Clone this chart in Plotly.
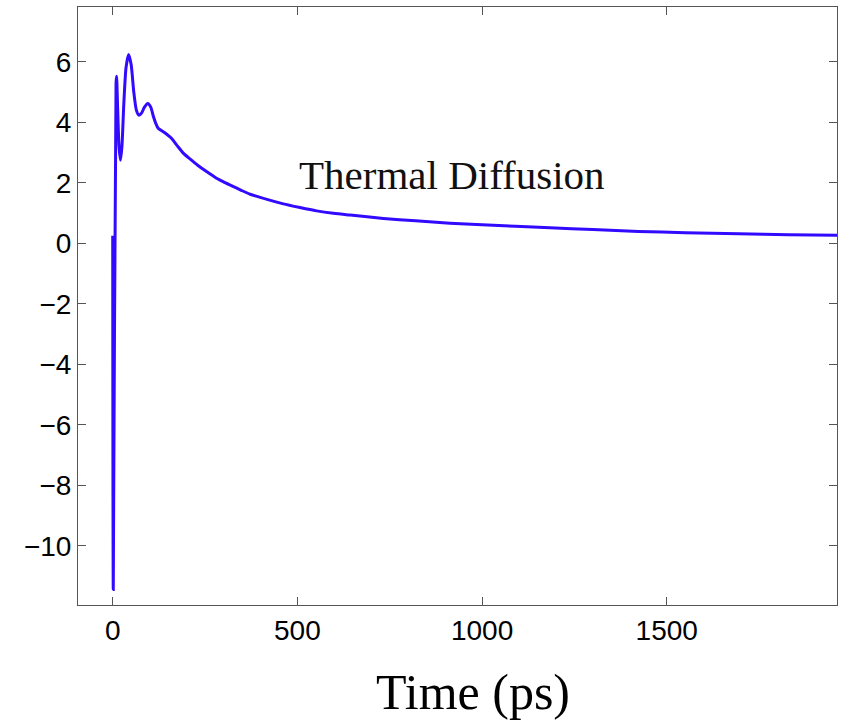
import plotly.graph_objects as go

# Time samples (ps) and the corresponding signal values
time_ps = [0, 1.5, 9, 10.5, 13, 17, 21, 25, 30, 36, 43, 50, 57, 64, 71, 78, 86, 95,
           103, 110, 117, 123, 140, 159, 175, 191, 210, 230, 255, 281, 300, 324,
           348, 372, 420, 462, 507, 552, 597, 643, 733, 820, 913, 1000, 1090,
           1184, 1300, 1424, 1550, 1695, 1830, 1961]
signal = [0.25, -11.45, 5.3, 5.52, 4.6, 3.2, 2.74, 3.2, 4.6, 5.8, 6.24, 5.9, 5.0,
          4.4, 4.23, 4.3, 4.5, 4.62, 4.5, 4.2, 3.95, 3.80, 3.66, 3.47, 3.22, 2.98,
          2.78, 2.58, 2.36, 2.15, 2.03, 1.89, 1.75, 1.62, 1.44, 1.30, 1.18, 1.07,
          0.99, 0.93, 0.82, 0.74, 0.66, 0.61, 0.56, 0.51, 0.45, 0.39, 0.35, 0.31,
          0.28, 0.26]

x_ticks = [0, 500, 1000, 1500]
y_ticks = [-10, -8, -6, -4, -2, 0, 2, 4, 6]

fig = go.Figure()
fig.add_trace(go.Scatter(
    x=time_ps, y=signal, mode="lines",
    line=dict(color="rgb(50,10,255)", width=3, shape="spline", smoothing=0.6),
    showlegend=False, hoverinfo="skip",
))

fig.add_annotation(
    x=500, y=2.25, xref="x", yref="y", text="Thermal Diffusion",
    showarrow=False, xanchor="left", yanchor="middle",
    font=dict(family="Liberation Serif", size=41, color="#111"),
)

# x-axis title placed as a paper-anchored label below the plot area
fig.add_annotation(
    x=0.52, y=-0.145, xref="paper", yref="paper", text="Time (ps)",
    showarrow=False, xanchor="center", yanchor="middle",
    font=dict(family="Liberation Serif", size=50, color="#000"),
)

axis_common = dict(
    showline=True, linecolor="#555", linewidth=1, mirror="ticks",
    ticks="inside", ticklen=8, tickcolor="#555", tickwidth=1,
    showgrid=False, zeroline=False,
    tickfont=dict(family="Liberation Sans", size=28, color="#000"),
)

fig.update_xaxes(
    range=[-94, 1961], tickvals=x_ticks, ticktext=[str(v) for v in x_ticks],
    **axis_common,
)
fig.update_yaxes(
    range=[-11.96, 7.81], tickvals=y_ticks,
    ticktext=[("\u2212" + str(-v)) if v < 0 else str(v) for v in y_ticks],
    **axis_common,
)

fig.update_layout(
    width=844, height=726,
    margin=dict(l=78, r=7, t=7, b=121),
    paper_bgcolor="white", plot_bgcolor="white",
)

fig.write_html("out.html")
